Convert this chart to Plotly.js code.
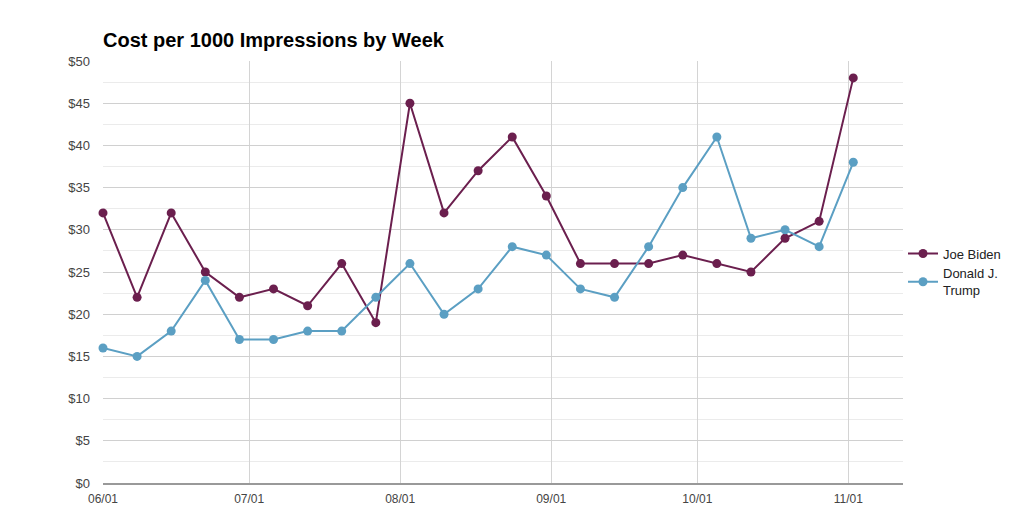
<!DOCTYPE html>
<html>
<head>
<meta charset="utf-8">
<script src="https://cdn.plot.ly/plotly-3.0.1.min.js"></script>
<style>
  html, body { margin: 0; padding: 0; background: #fff; }
  #chart { width: 1024px; height: 521px; }
</style>
</head>
<body>
<div id="chart"></div>
<script>
// weekly buckets, starting Monday 06/01
let weeks = ["2020-06-01", "2020-06-08", "2020-06-15", "2020-06-22", "2020-06-29",
  "2020-07-06", "2020-07-13", "2020-07-20", "2020-07-27", "2020-08-03",
  "2020-08-10", "2020-08-17", "2020-08-24", "2020-08-31", "2020-09-07",
  "2020-09-14", "2020-09-21", "2020-09-28", "2020-10-05", "2020-10-12",
  "2020-10-19", "2020-10-26", "2020-11-02"];

// cost per 1000 impressions, dollars
let bidenCpm = [32, 22, 32, 25, 22, 23, 21, 26, 19, 45, 32, 37, 41, 34, 26, 26, 26, 27, 26, 25, 29, 31, 48];
let trumpCpm = [16, 15, 18, 24, 17, 17, 18, 18, 22, 26, 20, 23, 28, 27, 23, 22, 28, 35, 41, 29, 30, 28, 38];

let seriesNames = ["Joe Biden", "Donald J.<br>Trump"];

let bidenTrace = {
  x: weeks,
  y: bidenCpm,
  name: seriesNames[0],
  type: "scatter",
  mode: "lines+markers",
  cliponaxis: false,
  line: { color: "#6b1f4e", width: 2 },
  marker: { color: "#6b1f4e", size: 9 }
};
let trumpTrace = {
  x: weeks,
  y: trumpCpm,
  name: seriesNames[1],
  type: "scatter",
  mode: "lines+markers",
  cliponaxis: false,
  line: { color: "#5b9fc3", width: 2 },
  marker: { color: "#5b9fc3", size: 9 }
};

let layout = {
  width: 1024,
  height: 521,
  margin: { l: 103, r: 121, t: 61, b: 38 },
  paper_bgcolor: "#fff",
  plot_bgcolor: "#fff",
  font: { family: "Liberation Sans, Arial, sans-serif", size: 12, color: "#444" },
  title: {
    text: "<b>Cost per 1000 Impressions by Week</b>",
    font: { size: 20, color: "#000" },
    xref: "paper", x: 0, xanchor: "left",
    yref: "container", y: 0.923, yanchor: "middle"
  },
  xaxis: {
    type: "date",
    range: ["2020-06-01", "2020-11-12 05:00"],
    tick0: "2020-06-01",
    dtick: "M1",
    tickformat: "%m/%d",
    showgrid: true,
    gridcolor: "#d4d4d4",
    gridwidth: 1,
    showline: true,
    linecolor: "#999",
    linewidth: 2,
    ticks: "",
    ticklabelstandoff: 4,
    zeroline: false
  },
  yaxis: {
    range: [0, 50],
    dtick: 5,
    tickprefix: "$",
    tickfont: { size: 13 },
    showgrid: true,
    gridcolor: "#d0d0d0",
    gridwidth: 1,
    minor: { dtick: 2.5, showgrid: true, gridcolor: "#ebebeb", gridwidth: 1 },
    zeroline: false,
    showline: false,
    ticks: "",
    ticklabelstandoff: 12
  },
  legend: {
    x: 1.0, xanchor: "left",
    y: 0.5, yanchor: "middle",
    font: { size: 13, color: "#222" },
    bgcolor: "rgba(0,0,0,0)"
  },
  showlegend: true
};

Plotly.newPlot("chart", [bidenTrace, trumpTrace], layout, { displayModeBar: false, staticPlot: true });
</script>
</body>
</html>
